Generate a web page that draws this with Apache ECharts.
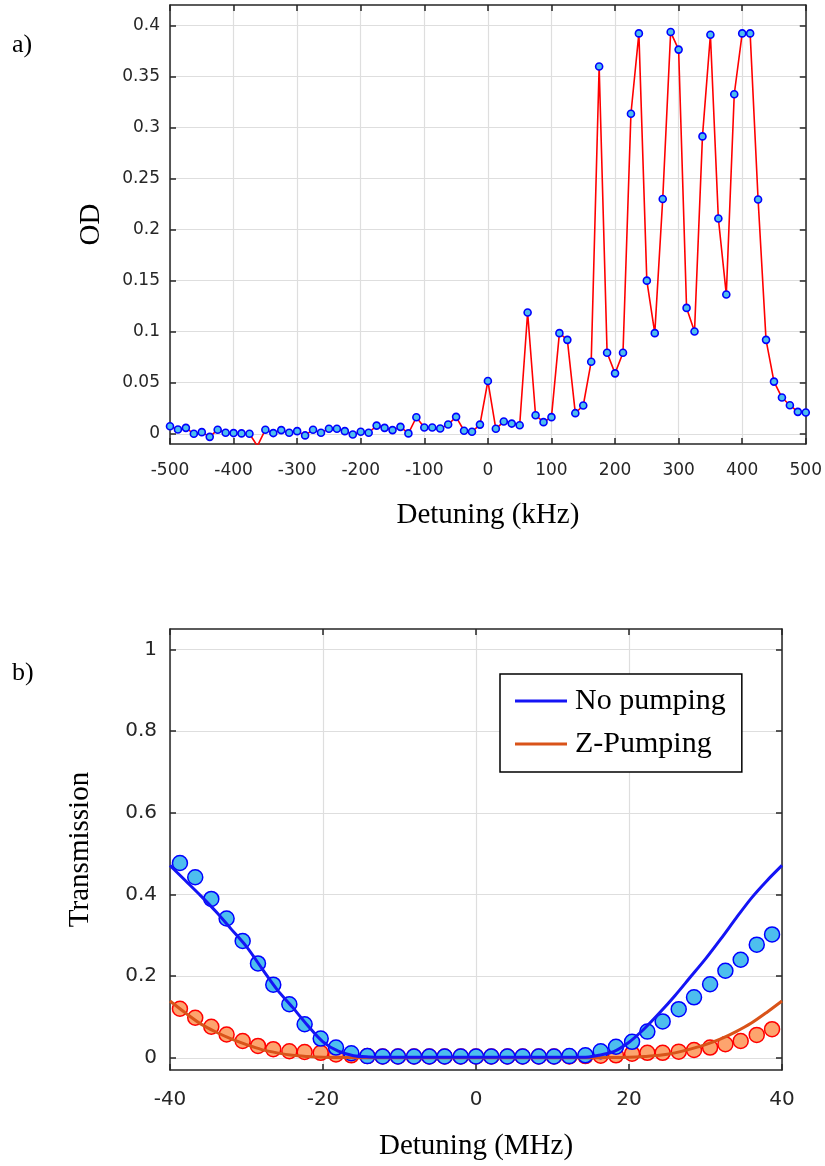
<!DOCTYPE html>
<html>
<head>
<meta charset="utf-8">
<script src="https://cdn.jsdelivr.net/npm/echarts@6/dist/echarts.min.js"></script>
<style>
html,body{margin:0;padding:0;background:#fff;}
#c{width:825px;height:1166px;}
</style>
</head>
<body>
<div id="c"></div>
<script>
// ---- Panel a) data ----
const odDetuning = [-500,-487.5,-475,-462.5,-450,-437.5,-425,-412.5,-400,-387.5,-375,-362.5,-350,-337.5,-325,-312.5,-300,-287.5,-275,-262.5,-250,-237.5,-225,-212.5,-200,-187.5,-175,-162.5,-150,-137.5,-125,-112.5,-100,-87.5,-75,-62.5,-50,-37.5,-25,-12.5,0,12.5,25,37.5,50,62.5,75,87.5,100,112.5,125,137.5,150,162.5,175,187.5,200,212.5,225,237.5,250,262.5,275,287.5,300,312.5,325,337.5,350,362.5,375,387.5,400,412.5,425,437.5,450,462.5,475,487.5,500];
const odValues = [0.0074,0.0042,0.0058,0.0000,0.0016,-0.0030,0.0040,0.0010,0.0007,0.0004,0.0000,-0.0120,0.0040,0.0007,0.0036,0.0010,0.0026,-0.0016,0.0040,0.0010,0.0050,0.0050,0.0026,-0.0007,0.0020,0.0010,0.0080,0.0058,0.0036,0.0068,0.0004,0.0162,0.0062,0.0062,0.0052,0.0091,0.0166,0.0030,0.0020,0.0090,0.0517,0.0049,0.0120,0.0100,0.0084,0.1188,0.0182,0.0114,0.0163,0.0986,0.0920,0.0202,0.0277,0.0706,0.3597,0.0794,0.0592,0.0794,0.3135,0.3922,0.1500,0.0986,0.2300,0.3935,0.3763,0.1233,0.1002,0.2913,0.3909,0.2109,0.1365,0.3326,0.3922,0.3922,0.2295,0.0920,0.0511,0.0355,0.0280,0.0215,0.0208];
const odYTicks = [0,0.05,0.1,0.15,0.2,0.25,0.3,0.35,0.4];

// ---- Panel b) data ----
const trDetuning = [-38.7,-36.7,-34.6,-32.6,-30.5,-28.5,-26.5,-24.4,-22.4,-20.3,-18.3,-16.3,-14.2,-12.2,-10.2,-8.1,-6.1,-4.1,-2.0,0,2.0,4.1,6.1,8.2,10.2,12.2,14.3,16.3,18.3,20.4,22.4,24.4,26.5,28.5,30.6,32.6,34.6,36.7,38.7];
const trNoPump = [0.477,0.442,0.389,0.341,0.286,0.231,0.179,0.131,0.082,0.047,0.025,0.011,0.004,0.003,0.003,0.003,0.003,0.003,0.003,0.003,0.003,0.003,0.003,0.003,0.003,0.004,0.006,0.016,0.027,0.039,0.064,0.089,0.119,0.148,0.180,0.213,0.240,0.277,0.302];
const trZPump = [0.120,0.098,0.076,0.057,0.041,0.029,0.021,0.016,0.014,0.012,0.008,0.006,0.004,0.003,0.003,0.003,0.003,0.003,0.003,0.003,0.003,0.003,0.003,0.003,0.003,0.003,0.004,0.005,0.006,0.010,0.012,0.012,0.015,0.019,0.025,0.033,0.041,0.056,0.070];
const fitDetuning = [-40,-38,-36,-34,-32,-30,-28,-26,-24,-22,-20,-18,-16,-14,-12,-10,-8,-6,-4,-2,0,2,4,6,8,10,12,14,16,18,20,22,24,26,28,30,32,34,36,38,40];
const fitNoPump = [0.471,0.434,0.397,0.358,0.315,0.272,0.219,0.167,0.124,0.079,0.039,0.016,0.005,0.002,0.001,0.001,0.001,0.001,0.001,0.001,0.001,0.001,0.001,0.001,0.001,0.001,0.001,0.001,0.006,0.015,0.038,0.071,0.110,0.152,0.197,0.242,0.291,0.342,0.391,0.433,0.471];
const fitZPump = [0.139,0.110,0.083,0.063,0.046,0.032,0.020,0.012,0.006,0.003,0.001,0.0005,0.0003,0.0002,0.0002,0.0002,0.0002,0.0002,0.0002,0.0002,0.0002,0.0002,0.0002,0.0002,0.0002,0.0002,0.0002,0.0002,0.0003,0.0005,0.001,0.003,0.006,0.012,0.021,0.032,0.046,0.064,0.085,0.111,0.139];
const trYTicks = [0,0.2,0.4,0.6,0.8,1];
const seriesNames = ['No pumping','Z-Pumping'];

const AX = '#262626';
const GRIDC = '#dedede';
const SANS = 'DejaVu Sans';
const SERIF = 'Liberation Serif';

function pair(xs, ys){ return xs.map((x,i)=>[x, ys[i]]); }

const chart = echarts.init(document.getElementById('c'), null, {renderer:'canvas'});

const axisLine = {show:true, onZero:false, lineStyle:{color:AX, width:1.5}};
const tickIn = {show:true, inside:true, length:6, lineStyle:{color:AX, width:1.5}};

const option = {
  animation:false,
  backgroundColor:'#fff',
  grid:[
    {left:170, top:5, width:638, height:439},
    {left:170, top:629, width:612, height:441}
  ],
  xAxis:[
    {gridIndex:0, type:'value', min:-500, max:500, interval:100, position:'bottom',
     axisLine:axisLine, axisTick:tickIn,
     axisLabel:{color:'#262626', fontFamily:SANS, fontSize:17, margin:18},
     splitLine:{show:true, lineStyle:{color:GRIDC, width:1.2}},
     name:'Detuning (kHz)', nameLocation:'middle', nameGap:57,
     nameTextStyle:{fontFamily:SERIF, fontSize:29, color:'#000'}},
    {gridIndex:0, type:'value', min:-500, max:500, interval:100, position:'top',
     axisLine:axisLine, axisTick:tickIn, axisLabel:{show:false}, splitLine:{show:false}},
    {gridIndex:1, type:'value', min:-40, max:40, interval:20, position:'bottom',
     axisLine:axisLine, axisTick:tickIn,
     axisLabel:{color:'#262626', fontFamily:SANS, fontSize:20, margin:20},
     splitLine:{show:true, lineStyle:{color:GRIDC, width:1.2}},
     name:'Detuning (MHz)', nameLocation:'middle', nameGap:62,
     nameTextStyle:{fontFamily:SERIF, fontSize:29, color:'#000'}},
    {gridIndex:1, type:'value', min:-40, max:40, interval:20, position:'top',
     axisLine:axisLine, axisTick:tickIn, axisLabel:{show:false}, splitLine:{show:false}}
  ],
  yAxis:[
    {gridIndex:0, type:'value', min:-0.01, max:0.42, position:'left',
     axisLine:axisLine, axisTick:Object.assign({customValues:odYTicks}, tickIn),
     axisLabel:{customValues:odYTicks, color:'#262626', fontFamily:SANS, fontSize:17, margin:10},
     splitLine:{show:true, customValues:odYTicks, lineStyle:{color:GRIDC, width:1.2}},
     name:'OD', nameLocation:'middle', nameGap:64,
     nameTextStyle:{fontFamily:SERIF, fontSize:29, color:'#000'}},
    {gridIndex:0, type:'value', min:-0.01, max:0.42, position:'right',
     axisLine:axisLine, axisTick:Object.assign({customValues:odYTicks}, tickIn),
     axisLabel:{show:false}, splitLine:{show:false}},
    {gridIndex:1, type:'value', min:-0.03, max:1.05, position:'left',
     axisLine:axisLine, axisTick:Object.assign({customValues:trYTicks}, tickIn),
     axisLabel:{customValues:trYTicks, color:'#262626', fontFamily:SANS, fontSize:20, margin:13},
     splitLine:{show:true, customValues:trYTicks, lineStyle:{color:GRIDC, width:1.2}},
     name:'Transmission', nameLocation:'middle', nameGap:75,
     nameTextStyle:{fontFamily:SERIF, fontSize:29, color:'#000'}},
    {gridIndex:1, type:'value', min:-0.03, max:1.05, position:'right',
     axisLine:axisLine, axisTick:Object.assign({customValues:trYTicks}, tickIn),
     axisLabel:{show:false}, splitLine:{show:false}}
  ],
  legend:{
    data:seriesNames.map(n=>({name:n, icon:'rect'})),
    orient:'vertical', left:500, top:674,
    padding:[12,16,13,15], itemGap:13, itemWidth:52, itemHeight:3,
    borderColor:'#000', borderWidth:1.5, backgroundColor:'#fff',
    textStyle:{fontFamily:SERIF, fontSize:30, color:'#000', padding:[0,0,0,3]}
  },
  graphic:[
    {type:'text', left:12, top:32, style:{text:'a)', font:'26px "Liberation Serif"', fill:'#000'}},
    {type:'text', left:12, top:660, style:{text:'b)', font:'26px "Liberation Serif"', fill:'#000'}}
  ],
  series:[
    {type:'line', xAxisIndex:0, yAxisIndex:0, data:pair(odDetuning, odValues),
     symbol:'circle', symbolSize:7, showAllSymbol:true, clip:true,
     lineStyle:{color:'#ff0000', width:1.6},
     itemStyle:{color:'#4dbeee', borderColor:'#0000ff', borderWidth:1.6}, z:3},
    {type:'scatter', xAxisIndex:2, yAxisIndex:2, data:pair(trDetuning, trZPump),
     symbol:'circle', symbolSize:15,
     itemStyle:{color:'#fda46e', borderColor:'#ff0000', borderWidth:1.5, opacity:1}, z:2},
    {type:'scatter', xAxisIndex:2, yAxisIndex:2, data:pair(trDetuning, trNoPump),
     symbol:'circle', symbolSize:15,
     itemStyle:{color:'#4dbeee', borderColor:'#0000ff', borderWidth:1.5, opacity:1}, z:3},
    {type:'line', name:'Z-Pumping', xAxisIndex:2, yAxisIndex:2, data:pair(fitDetuning, fitZPump),
     symbol:'none', smooth:0.3,
     lineStyle:{color:'#d95319', width:3}, itemStyle:{color:'#d95319'}, z:4},
    {type:'line', name:'No pumping', xAxisIndex:2, yAxisIndex:2, data:pair(fitDetuning, fitNoPump),
     symbol:'none', smooth:0.3,
     lineStyle:{color:'#1414f5', width:3}, itemStyle:{color:'#1414f5'}, z:5}
  ]
};
chart.setOption(option);
</script>
</body>
</html>
